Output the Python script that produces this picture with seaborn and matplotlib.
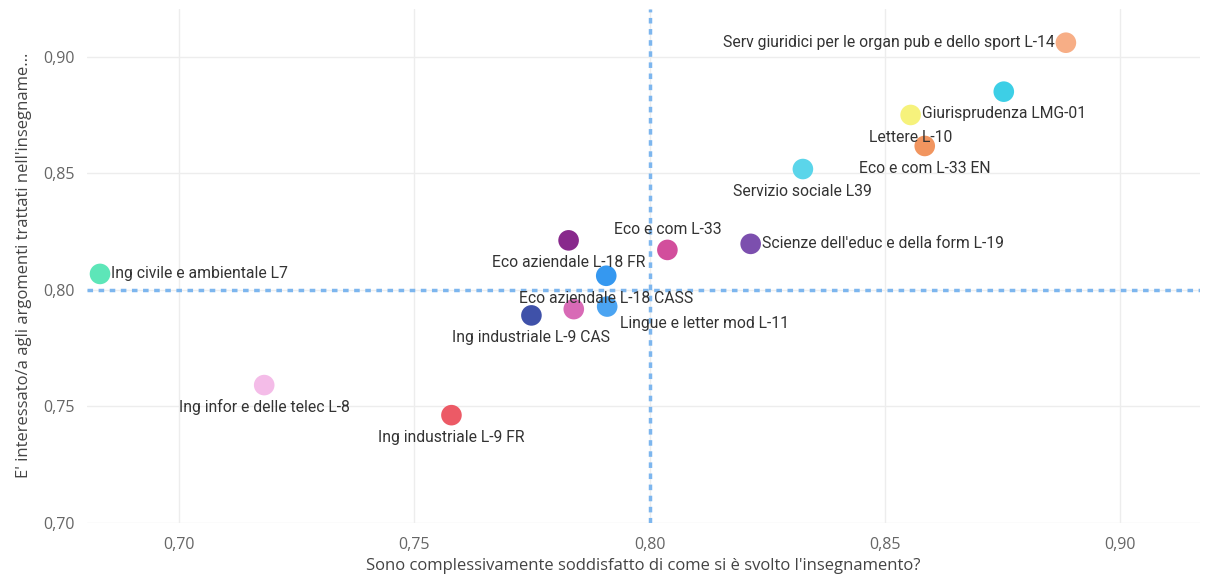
import pandas as pd
import matplotlib
matplotlib.use('Agg')
import matplotlib.pyplot as plt
from matplotlib.ticker import FuncFormatter, MultipleLocator
import seaborn as sns

# data
corsi = ['Serv giuridici per le organ pub e dello sport L-14', 'Giurisprudenza LMG-01', 'Lettere L-10',
         'Eco e com L-33 EN', 'Servizio sociale L39', 'Eco e com L-33', "Scienze dell'educ e della form L-19",
         'Eco aziendale L-18 FR', 'Eco aziendale L-18 CASS', '', 'Lingue e letter mod L-11',
         'Ing industriale L-9 CAS', 'Ing civile e ambientale L7', 'Ing infor e delle telec L-8',
         'Ing industriale L-9 FR']
soddisfatto = [0.8885, 0.8753, 0.8555, 0.8585, 0.8326, 0.8038, 0.8215,
               0.7828, 0.7908, 0.7839, 0.7910, 0.7749, 0.6832, 0.7181, 0.7579]
interessato = [0.906, 0.885, 0.875, 0.8617, 0.8518, 0.8171, 0.8197,
               0.8212, 0.806, 0.7917, 0.7928, 0.789, 0.8068, 0.7591, 0.7462]
colori = ['#F7AE86', '#3DCFE6', '#F6F27C', '#F1955F', '#5BD5EA', '#D24E9C', '#7C4FAE',
          '#88298C', '#3598F0', '#D86AB6', '#4BA4F2', '#3F51A9', '#5DE6B8', '#F4BCE8', '#EC5A66']
media_x = 0.80
media_y = 0.80

# label placement: (dx, dy) in points, horizontal alignment
pos_label = [(-8, 0, 'right'), (0, -16, 'center'), (0, -16, 'center'), (0, -16, 'center'),
             (0, -16, 'center'), (0, 15, 'center'), (8, 0, 'left'), (0, -16, 'center'),
             (0, -16, 'center'), (0, 0, 'center'), (9, -12, 'left'), (0, -16, 'center'),
             (8, 0, 'left'), (0, -16, 'center'), (0, -16, 'center')]

df = pd.DataFrame({'Corso': [c if c else f'_{i}' for i, c in enumerate(corsi)],
                   'x': soddisfatto, 'y': interessato})

sns.set_style('white')
plt.rcParams['font.family'] = ['Open Sans', 'DejaVu Sans']

fig = plt.figure(figsize=(12.06, 5.79), dpi=100)
ax = fig.add_axes([0.072, 0.097, 0.923, 0.888])

ax.set_xlim(0.6804, 0.917)
ax.set_ylim(0.70, 0.9206)
ax.xaxis.set_major_locator(MultipleLocator(0.05))
ax.yaxis.set_major_locator(MultipleLocator(0.05))
ax.grid(True, color='#EDEDED', linewidth=1)
ax.set_axisbelow(True)
for s in ax.spines.values():
    s.set_visible(False)

ax.axvline(media_x, color='#7DB6EE', linewidth=2.5, linestyle=(0, (1.6, 1.6)), zorder=1)
ax.axhline(media_y, color='#7DB6EE', linewidth=2.5, linestyle=(0, (1.6, 1.6)), zorder=1)

sns.scatterplot(data=df, x='x', y='y', hue='Corso', palette=colori, s=220,
                linewidth=0, legend=False, ax=ax, zorder=3)

for nome, xv, yv, (dx, dy, ha) in zip(corsi, soddisfatto, interessato, pos_label):
    if not nome:
        continue
    ax.annotate(nome, (xv, yv), xytext=(dx, dy), textcoords='offset points',
                ha=ha, va='center', fontsize=11.3, color='#333333', family=['Roboto', 'DejaVu Sans'],
                zorder=4)

fmt = FuncFormatter(lambda v, p: f'{v:.2f}'.replace('.', ','))
ax.xaxis.set_major_formatter(fmt)
ax.yaxis.set_major_formatter(fmt)
ax.tick_params(axis='both', length=0, labelsize=11.5, labelcolor='#666666')
ax.tick_params(axis='x', pad=10)
ax.tick_params(axis='y', pad=9)

ax.set_xlabel("Sono complessivamente soddisfatto di come si è svolto l'insegnamento?",
              fontsize=12, color='#444444', labelpad=4)
ax.set_ylabel("E' interessato/a agli argomenti trattati nell'insegname...",
              fontsize=12, color='#444444', labelpad=8)

fig.savefig('out.png', dpi=100)
